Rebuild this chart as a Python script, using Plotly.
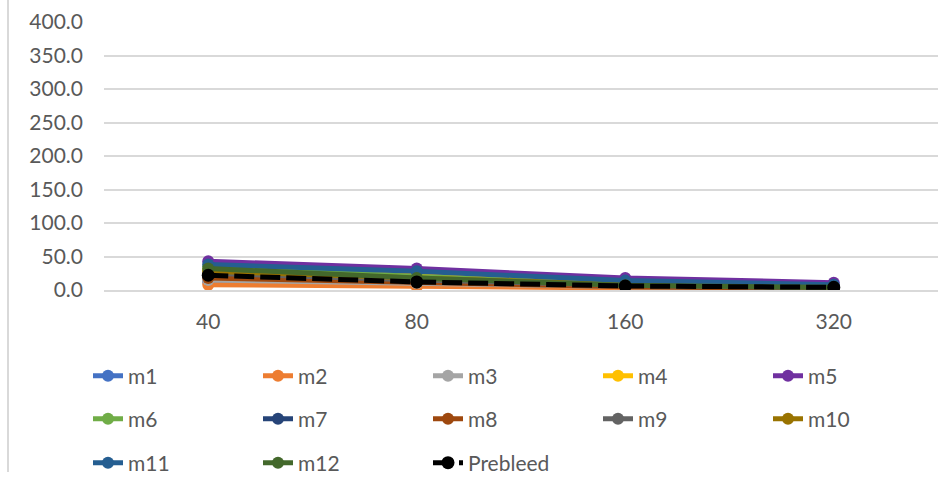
import plotly.graph_objects as go

# Dilution series on the category axis
dilutions = ["40", "80", "160", "320"]

m1 = [12, 8, 4, 2]
m2 = [8, 5, 3, 1]
m3 = [15, 10, 5, 2]
m4 = [30, 25, 10, 5]
m5 = [43, 32, 18, 11]
m6 = [35, 20, 8, 4]
m7 = [20, 12, 6, 3]
m8 = [18, 11, 5, 2]
m9 = [25, 15, 7, 3]
m10 = [28, 18, 8, 4]
m11 = [38, 28, 14, 8]
m12 = [32, 18, 7, 4]
prebleed = [22, 12, 6, 4]

y_ticks = [0, 50, 100, 150, 200, 250, 300, 350, 400]

series = [
    ("m1", m1, "#4472C4"),
    ("m2", m2, "#ED7D31"),
    ("m3", m3, "#A5A5A5"),
    ("m4", m4, "#FFC000"),
    ("m5", m5, "#7030A0"),
    ("m6", m6, "#70AD47"),
    ("m7", m7, "#264478"),
    ("m8", m8, "#9E480E"),
    ("m9", m9, "#636363"),
    ("m10", m10, "#997300"),
    ("m11", m11, "#255E91"),
    ("m12", m12, "#43682B"),
]

FONT = "Lato"
TXT = "#595959"
FS = 21

fig = go.Figure()
for i, (name, vals, color) in enumerate(series):
    legend_id = ["legend", "legend2", "legend3"][i // 5]
    fig.add_trace(go.Scatter(
        x=dilutions, y=vals, name=name, mode="lines+markers",
        line=dict(color=color, width=5),
        marker=dict(color=color, size=12),
        legend=legend_id,
    ))

fig.add_trace(go.Scatter(
    x=dilutions, y=prebleed, name="Prebleed", mode="lines+markers",
    line=dict(color="#000000", width=5, dash="20px,6px"),
    marker=dict(color="#000000", size=13),
    legend="legend3",
))

W, H = 946, 478
L, R, T, B = 104, 8, 22, 188
plot_h = H - T - B
plot_w = W - L - R

def py(pix_y):
    return (H - B - pix_y) / plot_h

def px(pix_x):
    return (pix_x - L) / plot_w

legend_common = dict(
    orientation="h", xanchor="left", yanchor="middle",
    entrywidth=125, entrywidthmode="pixels",
    font=dict(family=FONT, size=FS, color=TXT),
    bgcolor="rgba(0,0,0,0)", itemsizing="trace",
)

fig.update_layout(
    width=W, height=H,
    margin=dict(l=L, r=R, t=T, b=B, autoexpand=False),
    paper_bgcolor="white", plot_bgcolor="white",
    font=dict(family=FONT, size=FS, color=TXT),
    legend=dict(x=px(88), y=py(376), **legend_common),
    legend2=dict(x=px(88), y=py(419), **legend_common),
    legend3=dict(x=px(88), y=py(463), **legend_common),
    xaxis=dict(
        type="category", range=[-0.5, 3.5],
        showgrid=False, showline=True, linecolor="#D9D9D9", linewidth=1.5,
        ticks="", ticklabelstandoff=12,
        tickfont=dict(family=FONT, size=FS, color=TXT),
    ),
    yaxis=dict(
        range=[0, 400], tickvals=y_ticks,
        ticktext=[f"{v:.1f}" for v in y_ticks],
        showgrid=True, gridcolor="#D9D9D9", gridwidth=1.5,
        zeroline=False, showline=False, ticks="",
        ticklabelstandoff=20,
        tickfont=dict(family=FONT, size=FS, color=TXT),
    ),
    shapes=[dict(
        type="line", xref="paper", yref="paper",
        x0=px(8), x1=px(8), y0=py(472), y1=py(0),
        line=dict(color="#D9D9D9", width=2),
    )],
)

fig.write_html("out.html")
